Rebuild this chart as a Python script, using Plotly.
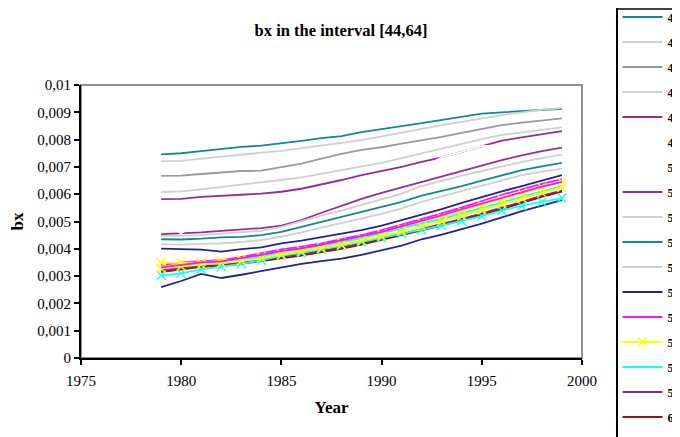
import plotly.graph_objects as go

years = list(range(1979, 2000))

# values in units of 0.001
s44 = [7.46, 7.50, 7.58, 7.66, 7.73, 7.78, 7.86, 7.95, 8.05, 8.13, 8.27, 8.37, 8.49, 8.60, 8.72, 8.84, 8.95, 9.00, 9.05, 9.09, 9.13]
s45 = [7.21, 7.22, 7.30, 7.38, 7.45, 7.52, 7.59, 7.68, 7.78, 7.88, 7.98, 8.12, 8.26, 8.40, 8.53, 8.65, 8.78, 8.90, 9.00, 9.10, 9.15]
s46 = [6.67, 6.68, 6.74, 6.80, 6.85, 6.86, 7.00, 7.12, 7.30, 7.48, 7.62, 7.72, 7.85, 7.97, 8.10, 8.25, 8.40, 8.53, 8.62, 8.70, 8.78]
s47 = [6.08, 6.10, 6.18, 6.26, 6.35, 6.42, 6.52, 6.62, 6.75, 6.88, 7.00, 7.15, 7.32, 7.50, 7.68, 7.85, 8.02, 8.17, 8.27, 8.35, 8.45]
s48 = [5.82, 5.83, 5.90, 5.93, 5.98, 6.02, 6.09, 6.20, 6.35, 6.52, 6.70, 6.85, 7.00, 7.18, 7.35, 7.55, 7.76, 7.96, 8.08, 8.20, 8.31]
s49 = [5.30, 5.32, 5.38, 5.42, 5.48, 5.52, 5.60, 5.72, 5.88, 6.05, 6.22, 6.45, 6.68, 6.95, 7.35, 7.55, 7.76, 7.80, 7.88, 7.95, 8.02]
s50 = [5.00, 4.57, 5.00, 5.10, 5.15, 5.20, 5.28, 5.40, 5.60, 5.85, 6.10, 6.30, 6.52, 6.72, 6.95, 7.15, 7.35, 7.55, 7.70, 7.85, 7.98]
s51 = [4.54, 4.56, 4.60, 4.66, 4.70, 4.76, 4.85, 5.05, 5.32, 5.58, 5.83, 6.05, 6.25, 6.45, 6.64, 6.85, 7.05, 7.25, 7.42, 7.58, 7.71]
s52 = [4.47, 4.47, 4.50, 4.55, 4.60, 4.66, 4.80, 5.02, 5.22, 5.40, 5.60, 5.80, 6.02, 6.30, 6.50, 6.68, 6.85, 7.02, 7.18, 7.32, 7.45]
s53 = [4.35, 4.34, 4.37, 4.42, 4.44, 4.50, 4.62, 4.80, 5.00, 5.18, 5.35, 5.52, 5.72, 5.95, 6.12, 6.30, 6.50, 6.70, 6.88, 7.02, 7.15]
s54 = [4.16, 4.15, 4.18, 4.20, 4.25, 4.32, 4.45, 4.60, 4.78, 4.95, 5.11, 5.28, 5.48, 5.72, 5.92, 6.12, 6.32, 6.52, 6.70, 6.83, 6.94]
s55 = [4.01, 4.00, 3.97, 3.90, 3.99, 4.05, 4.20, 4.30, 4.42, 4.55, 4.68, 4.85, 5.05, 5.25, 5.45, 5.68, 5.90, 6.10, 6.30, 6.50, 6.70]
s56 = [3.40, 3.50, 3.55, 3.58, 3.70, 3.85, 3.98, 4.08, 4.20, 4.35, 4.50, 4.68, 4.88, 5.08, 5.30, 5.52, 5.75, 5.98, 6.18, 6.38, 6.55]
s57 = [3.50, 3.48, 3.50, 3.55, 3.62, 3.72, 3.84, 3.95, 4.08, 4.22, 4.38, 4.55, 4.75, 4.95, 5.15, 5.38, 5.60, 5.82, 6.05, 6.25, 6.45]
s58 = [3.30, 3.38, 3.45, 3.50, 3.60, 3.72, 3.90, 4.00, 4.12, 4.25, 4.40, 4.58, 4.75, 4.92, 5.10, 5.30, 5.50, 5.72, 5.92, 6.12, 6.30]
s59 = [3.22, 3.30, 3.38, 3.40, 3.48, 3.58, 3.70, 3.80, 3.92, 4.05, 4.20, 4.36, 4.54, 4.72, 4.90, 5.10, 5.30, 5.50, 5.72, 5.95, 6.13]
s60 = [3.15, 3.25, 3.34, 3.38, 3.45, 3.55, 3.65, 3.75, 3.88, 4.00, 4.15, 4.32, 4.50, 4.68, 4.85, 5.05, 5.25, 5.45, 5.68, 5.90, 6.09]
s61 = [2.60, 2.82, 3.08, 2.93, 3.05, 3.18, 3.32, 3.45, 3.55, 3.64, 3.78, 3.95, 4.12, 4.35, 4.52, 4.72, 4.92, 5.15, 5.38, 5.58, 5.78]
s62 = [3.03, 3.10, 3.25, 3.35, 3.45, 3.58, 3.75, 3.85, 3.98, 4.12, 4.25, 4.40, 4.56, 4.70, 4.85, 5.02, 5.20, 5.40, 5.58, 5.72, 5.86]
s63 = [3.28, 3.35, 3.42, 3.48, 3.56, 3.66, 3.78, 3.90, 4.02, 4.15, 4.30, 4.46, 4.64, 4.82, 5.00, 5.20, 5.42, 5.64, 5.85, 6.05, 6.25]
s64 = [3.32, 3.42, 3.50, 3.54, 3.65, 3.78, 3.92, 4.02, 4.15, 4.30, 4.45, 4.62, 4.82, 5.02, 5.22, 5.45, 5.66, 5.88, 6.08, 6.28, 6.45]

names = [str(a) for a in range(44, 65)]
series = [s44, s45, s46, s47, s48, s49, s50, s51, s52, s53, s54, s55, s56, s57, s58, s59, s60, s61, s62, s63, s64]
colors = ["#108a8a", "#cfcfcf", "#9a9a9a", "#cfcfcf", "#992b99", "#ffffff", "#ffffff", "#992b99",
          "#cfcfcf", "#108a8a", "#cfcfcf", "#23238f", "#ff10ff", "#ffff00", "#10ffff", "#8a2a8a",
          "#8c1a1a", "#23238f", "#10ffff", "#ffff00", "#ff10ff"]
markers = {"57": "x-thin", "62": "x-thin", "63": "x-thin"}

ytick_vals = [0, 1, 2, 3, 4, 5, 6, 7, 8, 9, 10]
ytick_text = ["0", "0,001", "0,002", "0,003", "0,004", "0,005", "0,006", "0,007", "0,008", "0,009", "0,01"]
xtick_vals = [1975, 1980, 1985, 1990, 1995, 2000]

fig = go.Figure()
# white series drawn last so they cut the lines they cross (legend order kept with legendrank)
order = [i for i in range(len(names)) if colors[i] != "#ffffff"] + [i for i in range(len(names)) if colors[i] == "#ffffff"]
for i in order:
    nm = names[i]
    sym = markers.get(nm)
    fig.add_trace(go.Scatter(
        x=years, y=series[i], name=nm, legendgroup=nm,
        mode="lines+markers" if sym else "lines",
        line=dict(color=colors[i], width=1.8),
        marker=dict(symbol=sym, size=9, line=dict(color=colors[i], width=1.3)) if sym else None,
        legendrank=i + 1,
    ))

W, H = 680, 437
OFF = 8  # page body margin offset
ml, mt = 81 - OFF, 85 - OFF
mr, mb = W - (582 - OFF), H - (358 - OFF)
pw, ph = W - ml - mr, H - mt - mb


def px_x(xpix):  # figure pixel -> paper x
    return (xpix - ml) / pw


def px_y(ypix):  # figure pixel -> paper y
    return 1 - (ypix - mt) / ph


font_family = "Liberation Serif"
fig.update_layout(
    width=W, height=H,
    margin=dict(l=ml, r=mr, t=mt, b=mb, autoexpand=False),
    paper_bgcolor="white", plot_bgcolor="white",
    font=dict(family=font_family, color="black"),
    title=dict(text="<b>bx in the interval [44,64]</b>", x=(341 - OFF) / W, xanchor="center",
               xref="container", y=1 - (30 - OFF) / H, yanchor="middle", yref="container",
               font=dict(size=16.5, family=font_family, color="black")),
    showlegend=True,
    legend=dict(xref="paper", yref="paper", x=px_x(616 - OFF), y=px_y(-7),
                xanchor="left", yanchor="top", bgcolor="rgba(255,255,255,0)", bordercolor="black",
                borderwidth=1.5, font=dict(size=12, family=font_family, color="black", weight="bold"),
                itemwidth=40, tracegroupgap=6, maxheight=1000),
    shapes=[dict(type="rect", xref="paper", yref="paper", x0=0, x1=1, y0=0, y1=1,
                 line=dict(color="#909090", width=2), layer="below"),
            dict(type="line", xref="paper", yref="paper", x0=px_x(616 - OFF), x1=px_x(W + 5),
                 y0=px_y(1), y1=px_y(1), line=dict(color="black", width=1.5))],
)
fig.update_xaxes(range=[1975, 2000], tickvals=xtick_vals, showgrid=False, zeroline=False,
                 showline=True, linecolor="black", linewidth=2, ticks="outside", ticklen=5,
                 tickcolor="black", tickwidth=1.5, tickfont=dict(size=15, family=font_family),
                 ticklabelstandoff=3,
                 title=dict(text="<b>Year</b>", font=dict(size=17, family=font_family), standoff=13))
fig.update_yaxes(range=[0, 10], tickvals=ytick_vals, ticktext=ytick_text, showgrid=False,
                 zeroline=False, showline=True, linecolor="black", linewidth=2, ticks="outside",
                 ticklen=5, tickcolor="black", tickwidth=1.5,
                 tickfont=dict(size=15, family=font_family),
                 title=dict(text="<b>bx</b>", font=dict(size=17, family=font_family), standoff=9))

fig.write_html("out.html")
